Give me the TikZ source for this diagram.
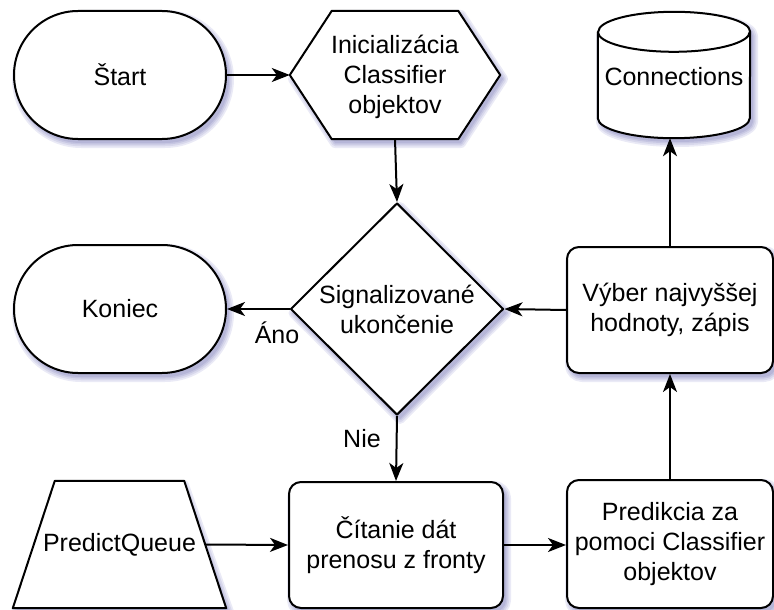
\documentclass[tikz,border=0pt]{standalone}
\usepackage{fontspec}
\setmainfont{Liberation Sans}
\usetikzlibrary{arrows.meta,shapes.geometric}
% soft shadow tones, from the outer fringe to the core
\definecolor{tintA}{RGB}{234,234,246}
\definecolor{tintB}{RGB}{216,216,236}
\definecolor{tintC}{RGB}{198,198,226}
\definecolor{tintD}{RGB}{182,182,216}

\begin{document}
\begin{tikzpicture}[x=1pt,y=-1pt,
  every node/.style={font=\fontsize{25}{30}\selectfont, align=center, inner sep=0pt},
  outline/.style={draw=black, line width=2pt, fill=white, line join=round},
  terminal/.style={outline, rounded corners=64pt, minimum width=212pt, minimum height=128pt},
  process/.style={outline, rounded corners=12pt, minimum height=126pt},
  frame/.style={minimum width=#1},
  flow/.style={draw=black, line width=2pt, -{Stealth[length=18pt,width=14pt,inset=5pt]}},
  lbl/.style={font=\fontsize{25}{30}\selectfont}
]
\useasboundingbox (0,0) rectangle (774,610);

% drop shadows, offset to the lower right of every shape, built up in bands
\foreach \p in {
  {[rounded corners=64pt] (17,15) rectangle (229,143)},
  {[rounded corners=64pt] (17,249) rectangle (229,377)},
  {(293,79) -- (335,15) -- (461,15) -- (503,79) -- (461,143) -- (335,143) -- cycle},
  {(400,207) -- (506.5,313) -- (400,419) -- (293.5,313) -- cycle},
  {[rounded corners=12pt] (292,486) rectangle (506,612)},
  {[rounded corners=12pt] (570,484) rectangle (776,612)},
  {[rounded corners=12pt] (570,251) rectangle (776,377)},
  {(16,612) -- (58,485) -- (184,485) -- (229,612) -- cycle},
  {(601,36) -- (601,122) arc[start angle=180, end angle=360, x radius=76pt, y radius=20pt]
    -- (753,36) arc[start angle=0, end angle=180, x radius=76pt, y radius=20pt] -- cycle}}
{
  \foreach \w/\c in {10/tintA, 6.5/tintB, 3/tintC}
    {\draw[\c, line width=\w pt, line join=round] \p;}
  \fill[tintD] \p;
}

% start / end terminals
\node[terminal] (start) at (120,75) {Štart};
\node[terminal] (end) at (120,309) {Koniec};

% initialisation hexagon: frame, outline, then its text
\path node[frame=210pt, minimum height=128pt] (init) at (395,75) {};
\draw[outline] (init.west) -- ([xshift=42pt]init.north west)
  -- ([xshift=-42pt]init.north east) -- (init.east)
  -- ([xshift=-42pt]init.south east) -- ([xshift=42pt]init.south west) -- cycle;
\node (init-text) at ([yshift=-2pt]init.center) {Inicializácia\\Classifier\\objektov};

% decision
\node[outline, diamond, aspect=1, minimum width=213pt, minimum height=212pt]
  (cond) at (397,309) {Signalizované\\ukončenie};

% processing steps
\node[process, minimum width=214pt] (read) at (396,545) {Čítanie dát\\prenosu z fronty};
\node[process, minimum width=206pt, minimum height=128pt] (pred) at (670,544)
  {Predikcia za\\pomoci Classifier\\objektov};
\node[process, minimum width=206pt] (pick) at (670,310) {Výber najvyššej\\hodnoty, zápis};

% queue trapezoid
\path node[frame=213pt, minimum height=127pt] (queue) at (119.5,544.5) {};
\draw[outline] (queue.south west) -- ([xshift=42pt]queue.north west)
  -- ([xshift=-42pt]queue.north east) -- (queue.south east) -- cycle;
\node (queue-text) at (queue.center) {PredictQueue};

% database cylinder
\path node[frame=152pt, minimum height=126pt] (conn) at (674,75) {};
\draw[outline] ([yshift=-20pt]conn.north west) -- ([yshift=20pt]conn.south west)
  arc[start angle=180, end angle=360, x radius=76pt, y radius=20pt]
  -- ([yshift=-20pt]conn.north east)
  arc[start angle=0, end angle=180, x radius=76pt, y radius=20pt] -- cycle;
\draw[line width=2pt] ([yshift=-20pt]conn.north west)
  arc[start angle=180, end angle=360, x radius=76pt, y radius=20pt];
\node (conn-text) at ([yshift=-2pt]conn.center) {Connections};

% connectors
\draw[flow] (start.east) -- (init.west);
\draw[flow] (init.south) -- (cond.north);
\draw[flow] (cond.west) -- (end.east);
\draw[flow] (cond.south) -- (read.north);
\draw[flow] ([xshift=-21pt]queue.east) -- (read.west);
\draw[flow] (read.east) -- (pred.west |- read.east);
\draw[flow] (pred.north) -- (pick.south);
\draw[flow] (pick.west) -- (cond.east);
\draw[flow] (pick.north) -- (conn.south -| pick.north);

% branch labels
\node[lbl] (yes) at (277,333) {Áno};
\node[lbl] (no) at (362,439) {Nie};
\end{tikzpicture}
\end{document}
